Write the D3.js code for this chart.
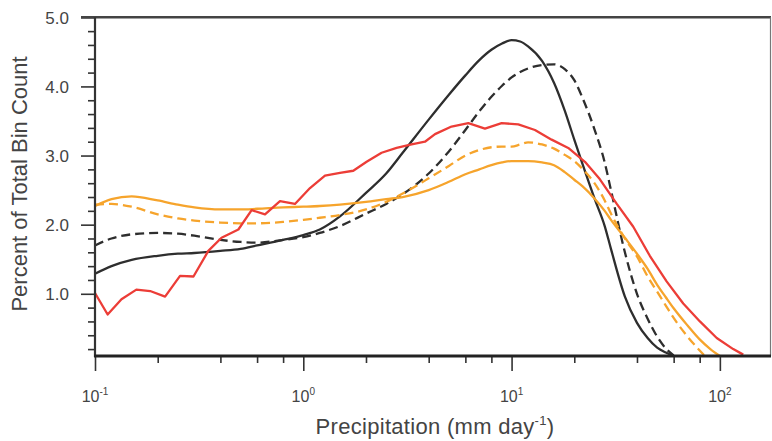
<!DOCTYPE html>
<html>
<head>
<meta charset="utf-8">
<script src="https://cdn.jsdelivr.net/npm/d3@7"></script>
<style>
  body { margin: 0; background: #fff; }
  svg { display: block; font-family: "Liberation Sans", Arial, Helvetica, sans-serif; }
  .axis text { fill: #444; font-size: 17px; }
  .axis line { stroke: #333; stroke-width: 1.6; }
  .axis path { display: none; }
</style>
</head>
<body>
<svg id="chart" width="772" height="441"></svg>
<script>
// Precipitation histogram: percent of total bin count vs rain rate (log x).
const X_DOMAIN = [0.1, 176];
const Y_DOMAIN = [0.1, 5.0];
const X_MAJOR = [0.1, 1, 10, 100];
const X_MAJOR_EXP = ["-1", "0", "1", "2"];
const X_MINOR = [0.2, 0.4, 0.6, 0.8, 2, 4, 6, 8, 20, 40, 60, 80];
const Y_MAJOR = [1, 2, 3, 4, 5];
const Y_MINOR = [0.2, 0.4, 0.6, 0.8, 1.2, 1.4, 1.6, 1.8, 2.2, 2.4, 2.6, 2.8, 3.2, 3.4, 3.6, 3.8, 4.2, 4.4, 4.6, 4.8];

// shared bins for the smooth curves (mm/day)
const GRID = [0.1, 0.12, 0.15, 0.2, 0.25, 0.3, 0.4, 0.5, 0.6, 0.8, 1, 1.2, 1.5, 2, 2.5, 3, 4, 5, 6, 7, 8, 9, 10,
  11, 12, 14, 16, 18, 20, 22, 25, 28, 30, 35, 40, 45, 50, 55, 60, 70, 80, 90, 100];
const BLACK_SOLID = [1.29, 1.40, 1.49, 1.55, 1.58, 1.59, 1.62, 1.65, 1.70, 1.78, 1.85, 1.93, 2.12, 2.46, 2.74, 3.04, 3.52, 3.88, 4.16, 4.38, 4.53, 4.62, 4.67,
  4.65, 4.58, 4.37, 4.05, 3.65, 3.23, 2.86, 2.38, 1.98, 1.65, 0.96, 0.58, 0.36, 0.22, 0.15, 0.10, null, null, null, null];
const BLACK_DASH = [1.70, 1.80, 1.86, 1.88, 1.87, 1.84, 1.78, 1.75, 1.74, 1.78, 1.82, 1.88, 1.98, 2.16, 2.30, 2.44, 2.74, 3.06, 3.37, 3.64, 3.85, 4.01, 4.13,
  4.21, 4.26, 4.31, 4.32, 4.25, 4.09, 3.82, 3.38, 2.90, 2.50, 1.60, 1.00, 0.64, 0.38, 0.21, 0.11, null, null, null, null];
const ORANGE_SOLID = [2.27, 2.37, 2.41, 2.35, 2.29, 2.25, 2.22, 2.22, 2.23, 2.25, 2.26, 2.27, 2.29, 2.33, 2.37, 2.40, 2.50, 2.62, 2.73, 2.80, 2.86, 2.90, 2.92,
  2.92, 2.92, 2.90, 2.86, 2.76, 2.65, 2.55, 2.38, 2.20, 2.07, 1.81, 1.58, 1.36, 1.13, 0.95, 0.79, 0.54, 0.34, 0.20, 0.10];
const ORANGE_DASH = [2.29, 2.30, 2.26, 2.15, 2.09, 2.06, 2.03, 2.02, 2.02, 2.04, 2.07, 2.10, 2.14, 2.22, 2.33, 2.45, 2.67, 2.85, 3.00, 3.08, 3.12, 3.13, 3.13,
  3.16, 3.19, 3.16, 3.10, 3.01, 2.92, 2.80, 2.60, 2.35, 2.16, 1.80, 1.54, 1.25, 1.03, 0.83, 0.65, 0.38, 0.18, 0.02, null];

// red curve has its own (noisier) bins
const RED_X = [0.1, 0.115, 0.134, 0.158, 0.184, 0.217, 0.256, 0.297, 0.350, 0.405, 0.488, 0.565, 0.655, 0.773, 0.912,
  1.077, 1.271, 1.50, 1.738, 2.014, 2.377, 2.806, 3.311, 3.838, 4.29, 5.15, 6.20, 6.80, 7.45, 8.96, 10.77, 12.95,
  15.57, 18.71, 22.5, 26.5, 32.0, 38.4, 46.1, 55.5, 66.7, 80.2, 96.6, 115.9, 129.5];
const RED_Y = [1.01, 0.70, 0.92, 1.06, 1.04, 0.96, 1.26, 1.25, 1.62, 1.81, 1.93, 2.21, 2.15, 2.34, 2.30,
  2.53, 2.71, 2.75, 2.78, 2.91, 3.04, 3.11, 3.16, 3.20, 3.31, 3.42, 3.47, 3.43, 3.39, 3.47, 3.45, 3.37,
  3.23, 3.11, 2.91, 2.66, 2.30, 1.97, 1.55, 1.18, 0.86, 0.60, 0.36, 0.20, 0.12];

const BLACK = "#2e2e2e", RED = "#ec3d37", ORANGE = "#f6a42c";
const SERIES = [
  { xs: GRID, ys: BLACK_SOLID, color: BLACK, dash: null, curve: d3.curveMonotoneX },
  { xs: GRID, ys: BLACK_DASH, color: BLACK, dash: "9,5", curve: d3.curveMonotoneX },
  { xs: GRID, ys: ORANGE_SOLID, color: ORANGE, dash: null, curve: d3.curveMonotoneX },
  { xs: GRID, ys: ORANGE_DASH, color: ORANGE, dash: "9,5", curve: d3.curveMonotoneX },
  { xs: RED_X, ys: RED_Y, color: RED, dash: null, curve: d3.curveLinear }
];

const L = 95, R = 771, T = 17.3, B = 356;
const svg = d3.select("#chart");
const x = d3.scaleLog().domain(X_DOMAIN).range([L, R]);
const y = d3.scaleLinear().domain(Y_DOMAIN).range([B, T]);

svg.append("defs").append("clipPath").attr("id", "plot")
  .append("rect").attr("x", L).attr("y", T).attr("width", R - L).attr("height", B - T);

// curves
const g = svg.append("g").attr("clip-path", "url(#plot)");
for (const s of SERIES) {
  const pts = s.xs.map((v, i) => [v, s.ys[i]]).filter(p => p[1] != null);
  const line = d3.line().x(p => x(p[0])).y(p => y(p[1])).curve(s.curve);
  g.append("path").datum(pts).attr("d", line)
    .attr("fill", "none").attr("stroke", s.color).attr("stroke-width", 2.3)
    .attr("stroke-linejoin", "round").attr("stroke-dasharray", s.dash);
}

// y axis: majors with labels, minors without
svg.append("g").attr("class", "axis").attr("transform", `translate(${L},0)`)
  .call(d3.axisLeft(y).tickValues(Y_MAJOR).tickSize(14).tickPadding(12).tickFormat(d3.format(".1f")))
  .selectAll("text").attr("dy", "0.36em");
svg.append("g").attr("class", "axis").attr("transform", `translate(${L},0)`)
  .call(d3.axisLeft(y).tickValues(Y_MINOR).tickSize(7).tickFormat(""));

// x axis
svg.append("g").attr("class", "axis").attr("transform", `translate(0,${B})`)
  .call(d3.axisBottom(x).tickValues(X_MAJOR).tickSize(15).tickFormat(""));
svg.append("g").attr("class", "axis").attr("transform", `translate(0,${B})`)
  .call(d3.axisBottom(x).tickValues(X_MINOR).tickSize(7).tickFormat(""));
const xl = svg.append("g").selectAll("text").data(X_MAJOR).join("text")
  .attr("x", d => x(d)).attr("y", 402).attr("text-anchor", "middle")
  .attr("fill", "#444").attr("font-size", 16).text("10");
xl.append("tspan").attr("dy", -7).attr("font-size", 10).text((d, i) => X_MAJOR_EXP[i]);

// frame
svg.append("line").attr("x1", L - 14).attr("x2", R).attr("y1", T).attr("y2", T)
  .attr("stroke", "#444").attr("stroke-width", 2.4);
svg.append("line").attr("x1", R - 0.5).attr("x2", R - 0.5).attr("y1", T).attr("y2", B)
  .attr("stroke", "#777").attr("stroke-width", 1.2);
svg.append("line").attr("x1", L).attr("x2", L).attr("y1", T).attr("y2", B + 1)
  .attr("stroke", "#333").attr("stroke-width", 2.2);
svg.append("line").attr("x1", L - 1).attr("x2", R).attr("y1", B).attr("y2", B)
  .attr("stroke", "#222").attr("stroke-width", 3);

// titles
const xt = svg.append("text").attr("x", 435).attr("y", 434).attr("text-anchor", "middle")
  .attr("fill", "#444").attr("font-size", 22).attr("letter-spacing", 0.3).text("Precipitation (mm day");
xt.append("tspan").attr("dy", -9).attr("font-size", 13).text("-1");
xt.append("tspan").attr("dy", 9).text(")");
svg.append("text").attr("transform", "translate(27,184) rotate(-90)")
  .attr("text-anchor", "middle").attr("fill", "#444").attr("font-size", 22)
  .text("Percent of Total Bin Count");
</script>
</body>
</html>
